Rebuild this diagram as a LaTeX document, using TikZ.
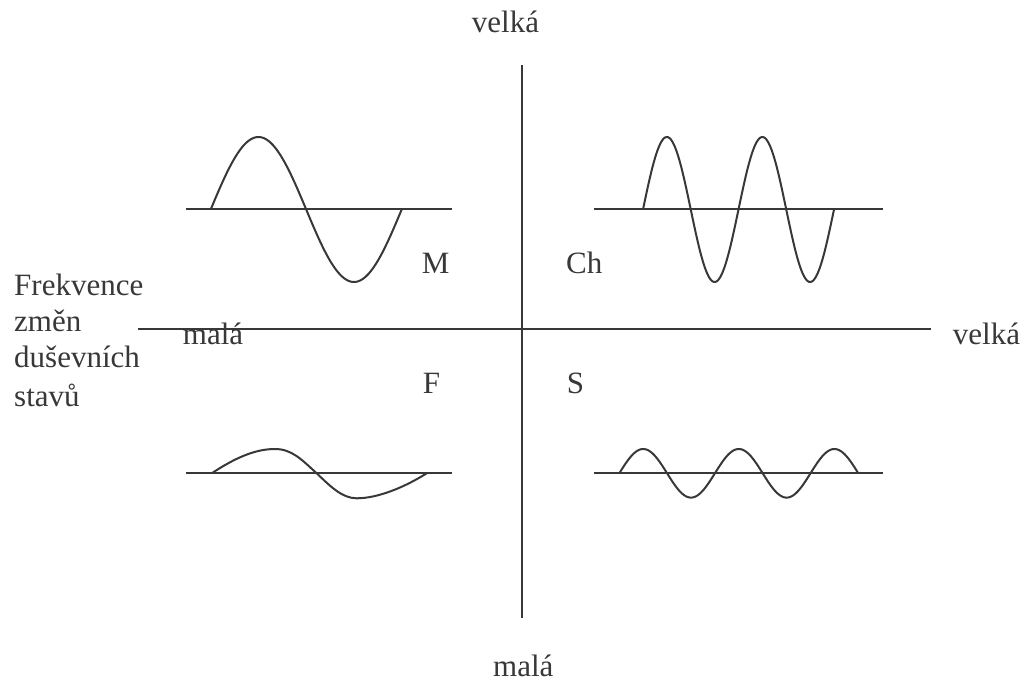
\documentclass[tikz,border=0pt]{standalone}
\usepackage{fontspec}
\setmainfont{Liberation Serif}
\definecolor{ink}{HTML}{383838}
\begin{document}
\begin{tikzpicture}[x=1pt,y=-1pt,
  line/.style={draw=ink,line width=2pt},
  wave/.style={draw=ink,line width=2pt,line join=round},
  lbl/.style={text=ink,font=\fontsize{31}{37}\selectfont,inner sep=0pt,anchor=base west}]
\useasboundingbox (0,0) rectangle (1026,684);
% axes
\coordinate (vt) at (522.3,65);
\coordinate (vb) at (522.3,618);
\coordinate (hl) at (138,329.5);
\coordinate (hr) at (930.7,329.5);
\draw[line] (vt) -- (vb);
\draw[line] (hl) -- (hr);
% axis labels
\node[lbl] (top) at (471.7,33) {velká};
\node[lbl,text depth=0pt] (bottom) at (493,676) {malá};
\node[lbl] (right) at (952.7,345) {velká};
\node[lbl] (left) at (182.7,345) {malá};
\node[lbl] (f1) at (14,296) {Frekvence};
\node[lbl] (f2) at (14,331.7) {změn};
\node[lbl] (f3) at (14,367.3) {duševních};
\node[lbl] (f4) at (14,406.7) {stavů};
% quadrant letters
\node[lbl] (M) at (421.7,274) {M};
\node[lbl] (Ch) at (566,274) {Ch};
\node[lbl] (F) at (422.7,394) {F};
\node[lbl] (S) at (566.7,394) {S};
% top-left wave
\coordinate (tl1) at (186,209.5);
\coordinate (tl2) at (451.7,209.5);
\draw[line] (tl1) -- (tl2);
\draw[wave] plot[domain=0:360,samples=120] ({210.7+\x/360*191},{209.5-72.5*sin(\x)});
% top-right wave
\coordinate (tr1) at (594,209.5);
\coordinate (tr2) at (883,209.5);
\draw[line] (tr1) -- (tr2);
\draw[wave] plot[domain=0:720,samples=200] ({643+\x/720*191},{209.5-72.5*sin(\x)});
% bottom-left wave
\coordinate (bl1) at (186,473.3);
\coordinate (bl2) at (451.7,473.3);
\draw[line] (bl1) -- (bl2);
\draw[wave] (211.7,473.3) .. controls (235,458) and (255,449) .. (275,449)
  .. controls (292,449) and (302,460) .. (316.7,473.3)
  .. controls (330,486) and (342,498.3) .. (356.7,498.3)
  .. controls (378,498.3) and (405,487) .. (426.7,473.3);
% bottom-right wave
\coordinate (br1) at (594,473.3);
\coordinate (br2) at (883,473.3);
\draw[line] (br1) -- (br2);
\draw[wave] plot[domain=0:900,samples=240] ({619.3+\x/900*239},{473.3-24.3*sin(\x)});
\end{tikzpicture}
\end{document}
